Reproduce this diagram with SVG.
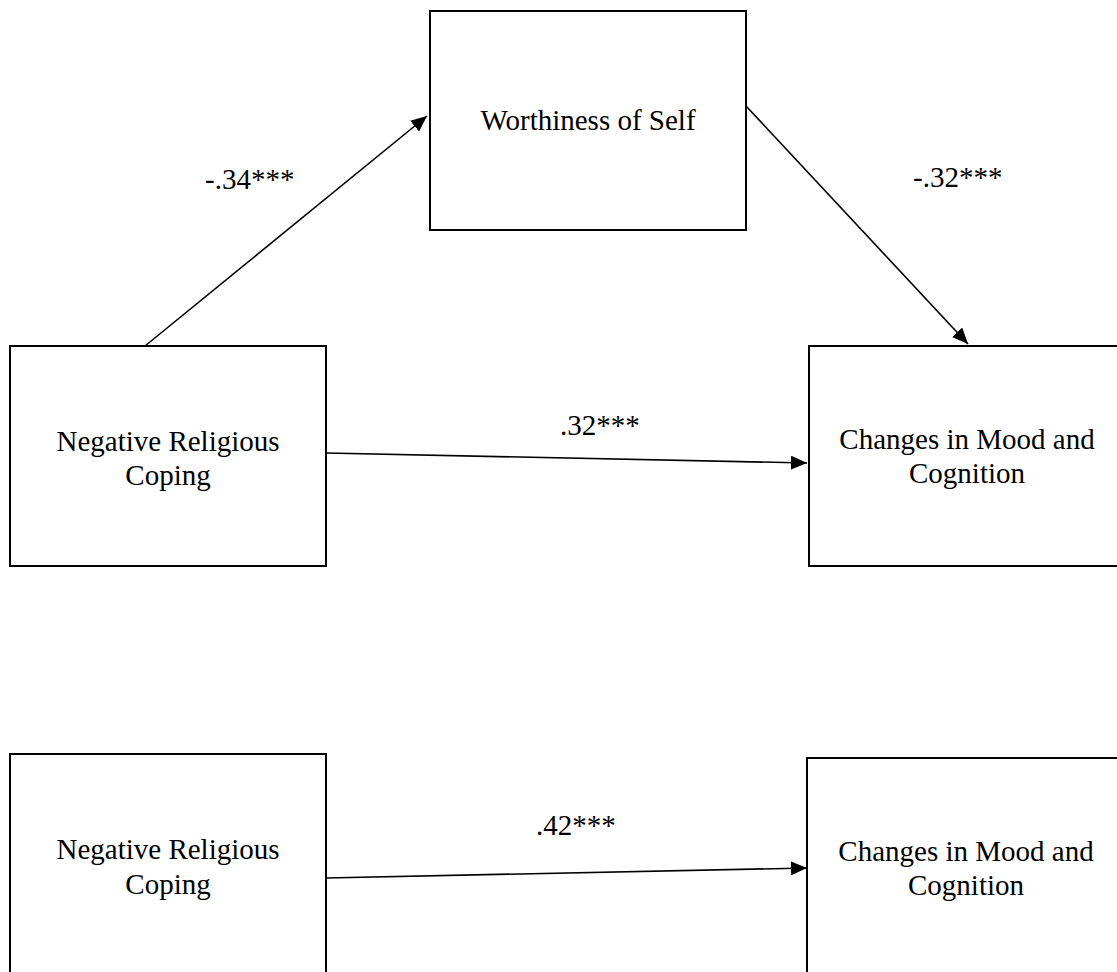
<svg xmlns="http://www.w3.org/2000/svg" width="1117" height="972" viewBox="0 0 1117 972">
  <style>
    .box { fill: #ffffff; stroke: #000000; stroke-width: 2; }
    .lbl { font-family: "Liberation Serif", "Times New Roman", serif; font-size: 29px; fill: #000000; }
    .mid { text-anchor: middle; }
    .path { stroke: #000000; stroke-width: 1.6; fill: none; marker-end: url(#arrow); }
  </style>
  <defs>
    <marker id="arrow" markerUnits="userSpaceOnUse" markerWidth="17" markerHeight="14" refX="16" refY="7" orient="auto">
      <path d="M0,0 L16,7 L0,14 Z" fill="#000000"/>
    </marker>
  </defs>
  <rect x="0" y="0" width="1117" height="972" fill="#ffffff"/>

  <!-- mediation model -->
  <g id="nrc-top">
    <rect class="box" x="10" y="346" width="316" height="220"/>
    <text class="lbl mid" x="168" y="451">Negative Religious</text>
    <text class="lbl mid" x="168" y="485">Coping</text>
  </g>
  <g id="worthiness">
    <rect class="box" x="430" y="11" width="316" height="219"/>
    <text class="lbl mid" x="588" y="130">Worthiness of Self</text>
  </g>
  <g id="mood-top">
    <rect class="box" x="809" y="346" width="316" height="220"/>
    <text class="lbl mid" x="967" y="449">Changes in Mood and</text>
    <text class="lbl mid" x="967" y="483">Cognition</text>
  </g>

  <!-- direct model -->
  <g id="nrc-bottom">
    <rect class="box" x="10" y="754" width="316" height="230"/>
    <text class="lbl mid" x="168" y="859">Negative Religious</text>
    <text class="lbl mid" x="168" y="894">Coping</text>
  </g>
  <g id="mood-bottom">
    <rect class="box" x="807" y="758" width="316" height="230"/>
    <text class="lbl mid" x="966" y="861">Changes in Mood and</text>
    <text class="lbl mid" x="966" y="895">Cognition</text>
  </g>

  <g id="connectors">
    <line class="path" x1="145" y1="346" x2="427" y2="116"/>
    <line class="path" x1="746" y1="106" x2="968" y2="344"/>
    <line class="path" x1="326" y1="453" x2="807" y2="463"/>
    <line class="path" x1="326" y1="878" x2="807" y2="868"/>
    <text class="lbl" x="205" y="189">-.34***</text>
    <text class="lbl" x="913" y="187">-.32***</text>
    <text class="lbl" x="560" y="435">.32***</text>
    <text class="lbl" x="536" y="835">.42***</text>
  </g>
</svg>
